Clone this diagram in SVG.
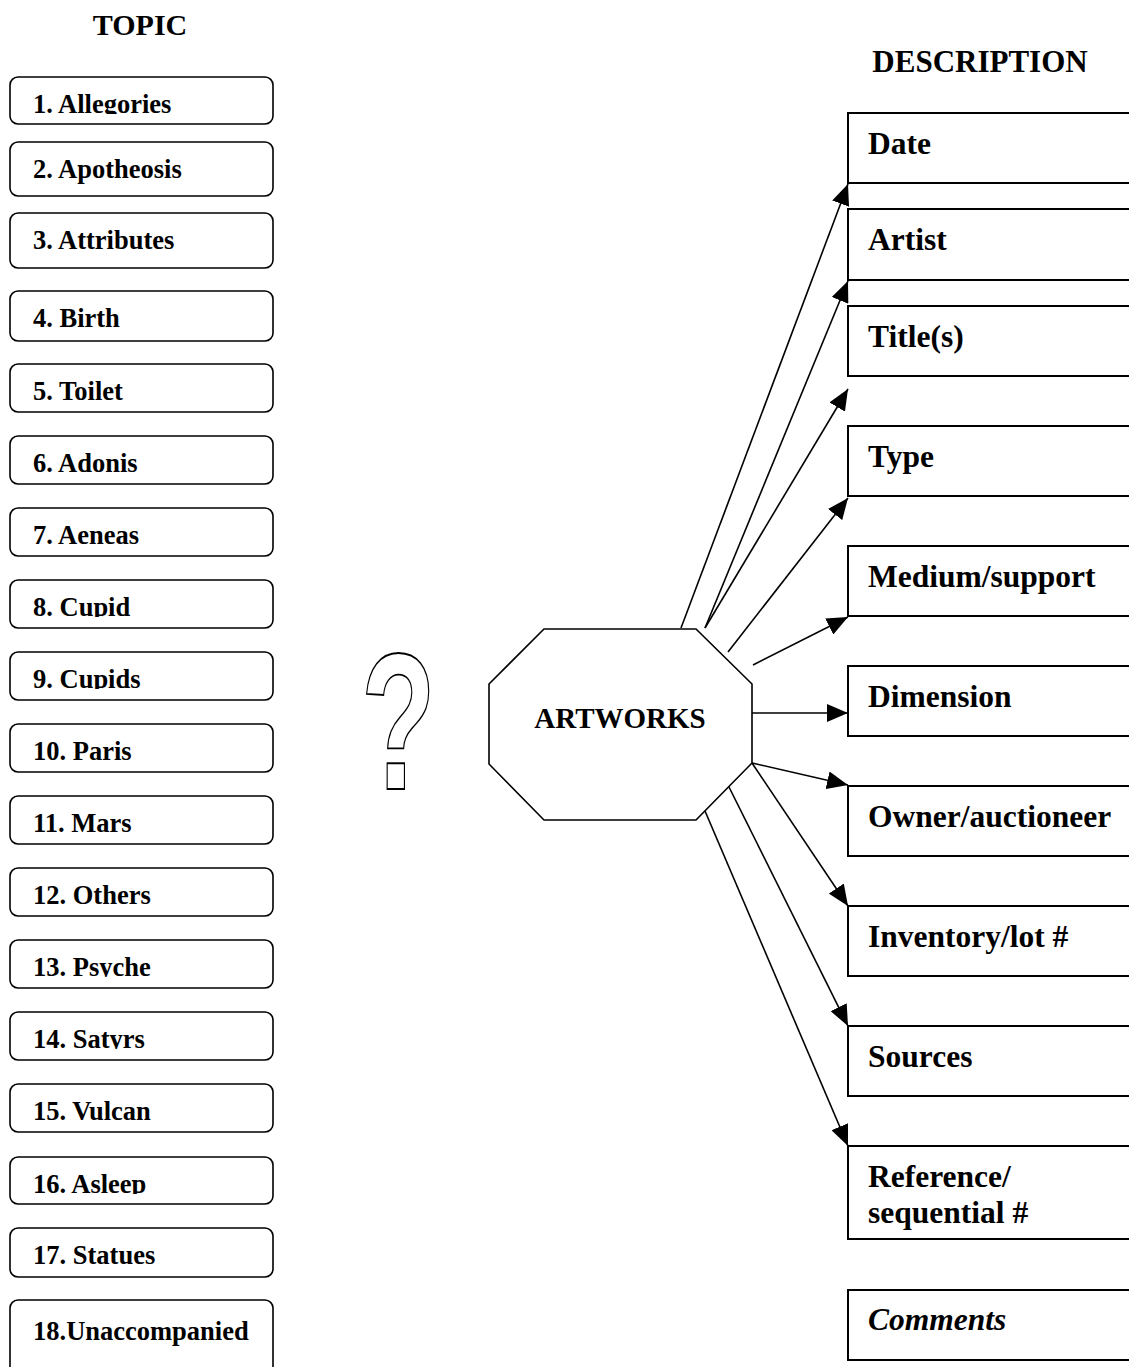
<svg xmlns="http://www.w3.org/2000/svg" width="1129" height="1367" viewBox="0 0 1129 1367">
<style>
.lb{fill:#fff;stroke:#000;stroke-width:1.6}
.rb{fill:#fff;stroke:#000;stroke-width:2}
.lt{font-family:"Liberation Serif","Times New Roman",serif;font-weight:bold;font-size:26.5px;fill:#000}
.rt{font-family:"Liberation Serif","Times New Roman",serif;font-weight:bold;font-size:31.5px;fill:#000}
.hd{font-family:"Liberation Serif","Times New Roman",serif;font-weight:bold;font-size:30px;fill:#000;text-anchor:middle}
.cn{fill:none;stroke:#000;stroke-width:1.6;marker-end:url(#ah)}
</style>
<defs>
<marker id="ah" markerUnits="userSpaceOnUse" markerWidth="22" markerHeight="18" refX="21" refY="9" orient="auto">
<path d="M0,0 L21,9 L0,18 z" fill="#000"/>
</marker>
<clipPath id="c1"><rect x="10" y="77" width="263" height="37"/></clipPath>
<clipPath id="c8"><rect x="10" y="580" width="263" height="37"/></clipPath>
<clipPath id="c9"><rect x="10" y="652" width="263" height="37"/></clipPath>
<clipPath id="c13"><rect x="10" y="940" width="263" height="37"/></clipPath>
<clipPath id="c14"><rect x="10" y="1012" width="263" height="37"/></clipPath>
<clipPath id="c16"><rect x="10" y="1157" width="263" height="37"/></clipPath>
</defs>
<rect width="1129" height="1367" fill="#fff"/>
<text id="topic-heading" class="hd" x="140" y="35">TOPIC</text>
<text id="description-heading" class="hd" x="980" y="72" style="font-size:31px">DESCRIPTION</text>

<g id="topic-1"><rect class="lb" x="10" y="77" width="263" height="47" rx="8"/><text class="lt" x="33" y="113" clip-path="url(#c1)">1. Allegories</text></g>
<g id="topic-2"><rect class="lb" x="10" y="142" width="263" height="54" rx="8"/><text class="lt" x="33" y="178">2. Apotheosis</text></g>
<g id="topic-3"><rect class="lb" x="10" y="213" width="263" height="55" rx="8"/><text class="lt" x="33" y="249">3. Attributes</text></g>
<g id="topic-4"><rect class="lb" x="10" y="291" width="263" height="50" rx="8"/><text class="lt" x="33" y="327">4. Birth</text></g>
<g id="topic-5"><rect class="lb" x="10" y="364" width="263" height="48" rx="8"/><text class="lt" x="33" y="400">5. Toilet</text></g>
<g id="topic-6"><rect class="lb" x="10" y="436" width="263" height="48" rx="8"/><text class="lt" x="33" y="472">6. Adonis</text></g>
<g id="topic-7"><rect class="lb" x="10" y="508" width="263" height="48" rx="8"/><text class="lt" x="33" y="544">7. Aeneas</text></g>
<g id="topic-8"><rect class="lb" x="10" y="580" width="263" height="48" rx="8"/><text class="lt" x="33" y="616" clip-path="url(#c8)">8. Cupid</text></g>
<g id="topic-9"><rect class="lb" x="10" y="652" width="263" height="48" rx="8"/><text class="lt" x="33" y="688" clip-path="url(#c9)">9. Cupids</text></g>
<g id="topic-10"><rect class="lb" x="10" y="724" width="263" height="48" rx="8"/><text class="lt" x="33" y="760">10. Paris</text></g>
<g id="topic-11"><rect class="lb" x="10" y="796" width="263" height="48" rx="8"/><text class="lt" x="33" y="832">11. Mars</text></g>
<g id="topic-12"><rect class="lb" x="10" y="868" width="263" height="48" rx="8"/><text class="lt" x="33" y="904">12. Others</text></g>
<g id="topic-13"><rect class="lb" x="10" y="940" width="263" height="48" rx="8"/><text class="lt" x="33" y="976" clip-path="url(#c13)">13. Psyche</text></g>
<g id="topic-14"><rect class="lb" x="10" y="1012" width="263" height="48" rx="8"/><text class="lt" x="33" y="1048" clip-path="url(#c14)">14. Satyrs</text></g>
<g id="topic-15"><rect class="lb" x="10" y="1084" width="263" height="48" rx="8"/><text class="lt" x="33" y="1120">15. Vulcan</text></g>
<g id="topic-16"><rect class="lb" x="10" y="1157" width="263" height="47" rx="8"/><text class="lt" x="33" y="1193" clip-path="url(#c16)">16. Asleep</text></g>
<g id="topic-17"><rect class="lb" x="10" y="1228" width="263" height="49" rx="8"/><text class="lt" x="33" y="1264">17. Statues</text></g>
<g id="topic-18"><rect class="lb" x="10" y="1300" width="263" height="80" rx="8"/><text class="lt" x="33" y="1340">18.Unaccompanied</text></g>

<g id="question-mark"><text x="0" y="0" transform="translate(361,789) scale(1.02,1.63)" style="font-family:'Liberation Sans',Arial,sans-serif;font-weight:bold;font-size:120px;fill:#fff;stroke:#000;stroke-width:1.5" vector-effect="non-scaling-stroke">?</text></g>

<g id="connectors">
<line class="cn" x1="681" y1="628" x2="848" y2="184"/>
<line class="cn" x1="705" y1="628" x2="848" y2="281"/>
<line class="cn" x1="705" y1="628" x2="848" y2="389"/>
<line class="cn" x1="728" y1="652" x2="848" y2="498"/>
<line class="cn" x1="753" y1="665" x2="848" y2="617"/>
<line class="cn" x1="752" y1="713" x2="848" y2="713"/>
<line class="cn" x1="752" y1="763" x2="848" y2="785"/>
<line class="cn" x1="752" y1="763" x2="848" y2="906"/>
<line class="cn" x1="729" y1="787" x2="848" y2="1026"/>
<line class="cn" x1="705" y1="811" x2="848" y2="1146"/>
</g>

<g id="artworks"><polygon points="544,629 696,629 752,684 752,763 696,820 544,820 489,764 489,684" fill="#fff" stroke="#000" stroke-width="1.6"/><text x="620" y="728" style="font-family:'Liberation Serif','Times New Roman',serif;font-weight:bold;font-size:29px;text-anchor:middle">ARTWORKS</text></g>

<g id="date"><rect class="rb" x="848" y="113" width="300" height="70"/><text class="rt" x="868" y="154">Date</text></g>
<g id="artist"><rect class="rb" x="848" y="209" width="300" height="71"/><text class="rt" x="868" y="250">Artist</text></g>
<g id="titles"><rect class="rb" x="848" y="306" width="300" height="70"/><text class="rt" x="868" y="347">Title(s)</text></g>
<g id="type"><rect class="rb" x="848" y="426" width="300" height="70"/><text class="rt" x="868" y="467">Type</text></g>
<g id="medium"><rect class="rb" x="848" y="546" width="300" height="70"/><text class="rt" x="868" y="587">Medium/support</text></g>
<g id="dimension"><rect class="rb" x="848" y="666" width="300" height="70"/><text class="rt" x="868" y="707">Dimension</text></g>
<g id="owner"><rect class="rb" x="848" y="786" width="300" height="70"/><text class="rt" x="868" y="827">Owner/auctioneer</text></g>
<g id="inventory"><rect class="rb" x="848" y="906" width="300" height="70"/><text class="rt" x="868" y="947">Inventory/lot #</text></g>
<g id="sources"><rect class="rb" x="848" y="1026" width="300" height="70"/><text class="rt" x="868" y="1067">Sources</text></g>
<g id="reference"><rect class="rb" x="848" y="1146" width="300" height="93"/><text class="rt" x="868" y="1187">Reference/</text><text class="rt" x="868" y="1223">sequential #</text></g>
<g id="comments"><rect class="rb" x="848" y="1290" width="300" height="70"/><text class="rt" x="868" y="1330" style="font-style:italic">Comments</text></g>
</svg>
